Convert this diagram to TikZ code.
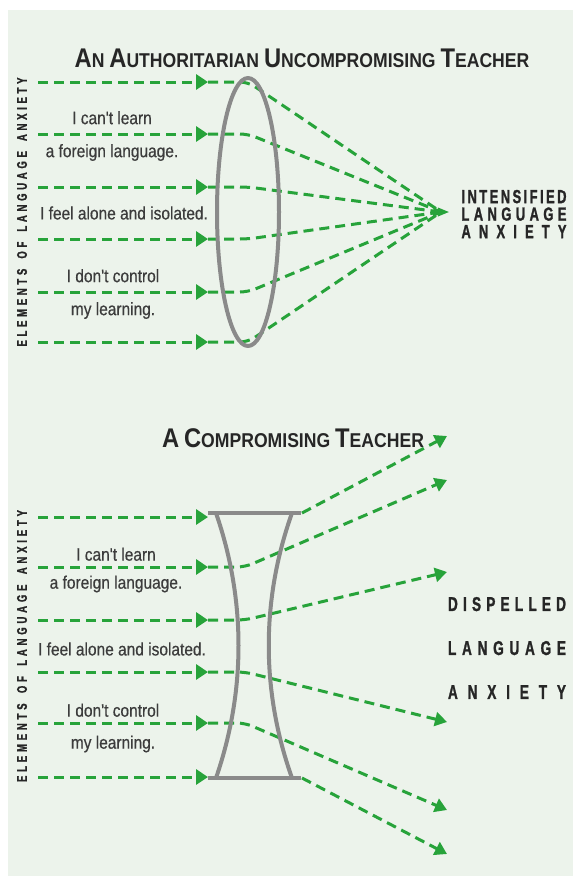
\documentclass[tikz,border=0pt]{standalone}
\usepackage{fontspec}
\setmainfont{Liberation Sans}
\newfontfamily\labelfont[FakeStretch=0.86,FakeBold=0.5]{Liberation Sans}
\newfontfamily\headfont[FakeStretch=0.88]{Liberation Sans}
\newfontfamily\narrowfont[FakeStretch=0.68,BoldFeatures={FakeBold=1.2}]{Liberation Sans}
\usetikzlibrary{arrows.meta,positioning,shapes.geometric}
\definecolor{Ink}{HTML}{262626}
\definecolor{Paper}{HTML}{ECF3EB}
\definecolor{Ray}{HTML}{27A33A}
\definecolor{LensGray}{HTML}{8A8A8A}
\ExplSyntaxOn
\NewDocumentCommand\spreadword{mm}{\makebox[#1][s]{\str_map_inline:nn{#2}{##1\hfil}\unskip}}
\ExplSyntaxOff
\newcommand\initialcap[1]{{\fontsize{27}{27}\selectfont #1}}
\tikzset{
  lens/.style={draw=LensGray, line width=4pt, line join=round},
  convexlens/.style={
    ellipse, lens, minimum width=62pt, minimum height=268pt, inner sep=0pt
  },
  flow/.style={-{Triangle[length=12pt,width=15pt]}, line width=3pt, draw=Ray,
    dash pattern=on 10pt off 6pt},
  ray/.style={line width=3pt, draw=Ray, dash pattern=on 10pt off 6pt,
    rounded corners=8pt},
  rayout/.style={ray, -{Triangle[length=12pt,width=14pt]}},
  focustip/.style={
    isosceles triangle, fill=Ray, minimum width=9pt, minimum height=9pt,
    inner sep=0pt
  },
  thought/.style={font=\labelfont\fontsize{18}{33}\selectfont, text=Ink!90,
    align=center, inner sep=0pt},
  heading/.style={font=\headfont\bfseries\fontsize{20}{20}\selectfont,
    text=Ink, inner sep=0pt, anchor=base},
  outcome/.style={font=\narrowfont\bfseries\fontsize{19}{17.5}\selectfont,
    text=Ink, align=center, inner sep=0pt},
  axislabel/.style={rotate=90, font=\narrowfont\bfseries\fontsize{14}{14}\selectfont,
    text=Ink, inner sep=0pt}
}

\begin{document}
\begin{tikzpicture}[x=1pt,y=-1pt]
  \useasboundingbox (0,0) rectangle (573,876);
  \fill[Paper] (8,10) rectangle (573,876);

  % authoritarian teacher: converging lens
  \node[heading] (title1) at (302,67)
    {\initialcap{A}N \initialcap{A}UTHORITARIAN \initialcap{U}NCOMPROMISING \initialcap{T}EACHER};
  \node[axislabel] (axis1) at (22,212) {\spreadword{269pt}{ELEMENTS OF LANGUAGE ANXIETY}};
  \node[focustip] (focus) at (441,212) {};
  \node[outcome] (intense) at (514,214)
    {\spreadword{105pt}{INTENSIFIED}\\\spreadword{105pt}{LANGUAGE}\\\spreadword{105pt}{ANXIETY}};

  \coordinate (s1) at (38,82);  \coordinate (t1) at (208,82);  \coordinate (m1) at (248,82);
  \coordinate (s2) at (38,134); \coordinate (t2) at (208,134); \coordinate (m2) at (248,134);
  \coordinate (s3) at (38,187); \coordinate (t3) at (208,187); \coordinate (m3) at (248,187);
  \coordinate (s4) at (38,239); \coordinate (t4) at (208,239); \coordinate (m4) at (248,239);
  \coordinate (s5) at (38,292); \coordinate (t5) at (208,292); \coordinate (m5) at (248,292);
  \coordinate (s6) at (38,342); \coordinate (t6) at (208,342); \coordinate (m6) at (248,342);

  \node[thought] (cantlearn1) at (112,136) {I can't learn\\a foreign language.};
  \node[thought] (alone1) at (124,213) {I feel alone and isolated.};
  \node[thought] (control1) at (113,294) {I don't control\\my learning.};

  \draw[flow] (s1) -- (t1);
  \draw[flow] (s2) -- (t2);
  \draw[flow] (s3) -- (t3);
  \draw[flow] (s4) -- (t4);
  \draw[flow] (s5) -- (t5);
  \draw[flow] (s6) -- (t6);
  \draw[ray] (t1) -- (m1) -- (focus.center);
  \draw[ray] (t2) -- (m2) -- (focus.center);
  \draw[ray] (t3) -- (m3) -- (focus.center);
  \draw[ray] (t4) -- (m4) -- (focus.center);
  \draw[ray] (t5) -- (m5) -- (focus.center);
  \draw[ray] (t6) -- (m6) -- (focus.center);
  \node[convexlens] (convex) at (248,212) {};

  % compromising teacher: diverging lens
  \node[heading] (title2) at (293,447) {\initialcap{A} \initialcap{C}OMPROMISING \initialcap{T}EACHER};
  \node[axislabel] (axis2) at (22,646) {\spreadword{272pt}{ELEMENTS OF LANGUAGE ANXIETY}};
  \node[outcome, font=\narrowfont\bfseries\fontsize{20}{44}\selectfont] (dispelled) at (507,648)
    {\spreadword{118pt}{DISPELLED}\\\spreadword{118pt}{LANGUAGE}\\\spreadword{118pt}{ANXIETY}};

  \coordinate (u1) at (38,517); \coordinate (v1) at (208,517); \coordinate (c1) at (302,513);
  \coordinate (u2) at (38,567); \coordinate (v2) at (208,567); \coordinate (n2) at (245,567);
  \coordinate (u3) at (38,620); \coordinate (v3) at (208,620); \coordinate (n3) at (245,620);
  \coordinate (u4) at (38,672); \coordinate (v4) at (208,672); \coordinate (n4) at (245,672);
  \coordinate (u5) at (38,723); \coordinate (v5) at (208,723); \coordinate (n5) at (245,723);
  \coordinate (u6) at (38,777); \coordinate (v6) at (208,777); \coordinate (c6) at (302,778);
  \coordinate (e1) at (447,436);
  \coordinate (e2) at (447,480);
  \coordinate (e3) at (447,572);
  \coordinate (e4) at (447,722);
  \coordinate (e5) at (447,810);
  \coordinate (e6) at (447,854);

  \node[thought, font=\labelfont\fontsize{18}{28}\selectfont] (cantlearn2) at (116,570)
    {I can't learn\\a foreign language.};
  \node[thought] (alone2) at (122,649) {I feel alone and isolated.};
  \node[thought, font=\labelfont\fontsize{18}{32}\selectfont] (control2) at (113,728)
    {I don't control\\my learning.};

  \draw[flow] (u1) -- (v1);
  \draw[flow] (u2) -- (v2);
  \draw[flow] (u3) -- (v3);
  \draw[flow] (u4) -- (v4);
  \draw[flow] (u5) -- (v5);
  \draw[flow] (u6) -- (v6);
  \draw[rayout] (c1) -- (e1);
  \draw[rayout] (v2) -- (n2) -- (e2);
  \draw[rayout] (v3) -- (n3) -- (e3);
  \draw[rayout] (v4) -- (n4) -- (e4);
  \draw[rayout] (v5) -- (n5) -- (e5);
  \draw[rayout] (c6) -- (e6);
  \draw[lens] (208,513) -- (301,513);
  \draw[lens] (208,778) -- (301,778);
  \draw[lens] (216,513) .. controls (246,600) and (246,691) .. (216,778);
  \draw[lens] (292,513) .. controls (261,600) and (261,691) .. (292,778);
\end{tikzpicture}
\end{document}
